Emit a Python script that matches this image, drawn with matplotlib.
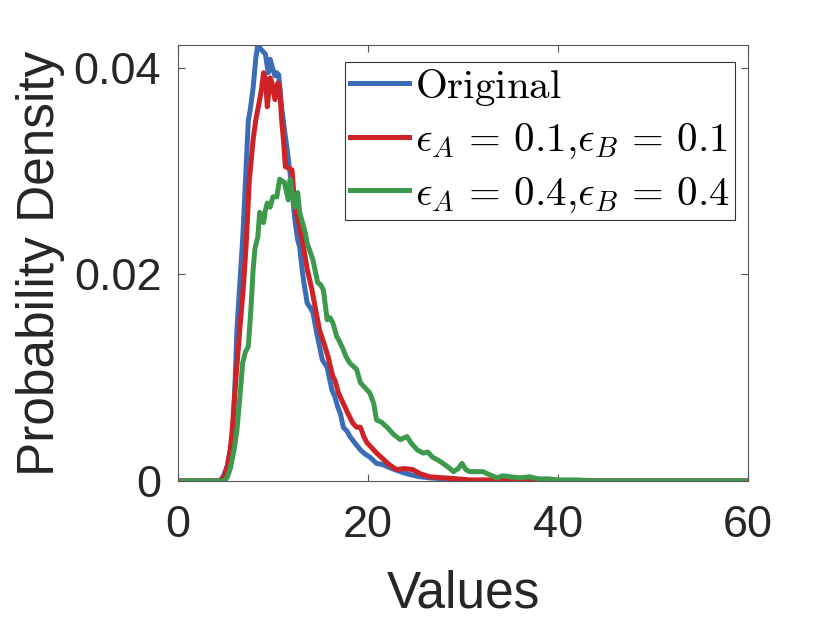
import matplotlib
matplotlib.use("Agg")
import matplotlib.pyplot as plt

plt.rcParams['font.family'] = ['Liberation Sans', 'DejaVu Sans']
plt.rcParams['mathtext.fontset'] = 'cm'

# ---- data ----
orig_x = [0, 4.4, 4.8, 5.2, 5.5, 5.8, 6.0, 6.2, 6.5, 6.8, 7.1, 7.4, 7.6, 7.9, 8.2, 8.4, 8.7, 9.0,
          9.2, 9.5, 9.7, 10.0, 10.2, 10.4, 10.6, 10.9, 11.2, 11.5, 12.0, 12.3, 12.6, 12.8, 13.0,
          13.2, 13.6, 13.9, 14.2, 14.6, 15.2, 15.7, 16.2, 16.5, 16.8, 17.1, 17.4, 17.8, 18.1,
          18.6, 19.2, 19.7, 20.2, 20.9, 21.5, 22.0, 22.8, 23.7, 24.5, 25.5, 26.5, 28.0, 29.0,
          31.0, 33.0, 60.0]
orig_y = [0, 0, 0.0005, 0.0015, 0.003, 0.0049, 0.0095, 0.0146, 0.019, 0.0233, 0.029, 0.0349,
          0.0359, 0.038, 0.041, 0.0422, 0.0418, 0.0415, 0.0413, 0.0395, 0.0408, 0.0398, 0.0392,
          0.0395, 0.0393, 0.0362, 0.034, 0.032, 0.0282, 0.0253, 0.0233, 0.0227, 0.021, 0.0195,
          0.0172, 0.0168, 0.0163, 0.0143, 0.0117, 0.011, 0.0088, 0.0082, 0.0072, 0.0065, 0.0052,
          0.0048, 0.0043, 0.0037, 0.003, 0.0026, 0.0023, 0.0017, 0.0016, 0.0014, 0.0011, 0.0008,
          0.0006, 0.0004, 0.0003, 0.0002, 0.0001, 0.00005, 0, 0]

e01_x = [0, 4.5, 4.9, 5.2, 5.5, 5.7, 6.1, 6.5, 6.9, 7.2, 7.5, 7.9, 8.2, 8.6, 8.8, 9.0, 9.2, 9.4,
         9.7, 9.9, 10.2, 10.5, 10.7, 10.9, 11.1, 11.3, 11.6, 12.0, 12.3, 12.8, 13.2, 13.6, 14.1,
         14.5, 14.9, 15.3, 15.8, 16.3, 16.5, 16.9, 17.4, 17.9, 18.4, 18.8, 19.2, 19.6, 19.9,
         20.4, 20.9, 21.5, 22.2, 23.0, 23.8, 24.7, 25.5, 26.5, 28.0, 29.5, 30.7, 33.0, 35.0, 60.0]
e01_y = [0, 0, 0.0005, 0.0015, 0.003, 0.0049, 0.01, 0.0146, 0.019, 0.0233, 0.029, 0.033, 0.035,
         0.0369, 0.038, 0.0395, 0.039, 0.0362, 0.039, 0.0385, 0.0369, 0.0385, 0.038, 0.035,
         0.033, 0.0304, 0.0303, 0.0301, 0.0265, 0.0246, 0.0227, 0.0205, 0.0185, 0.0165, 0.0146,
         0.0135, 0.012, 0.0101, 0.0098, 0.0085, 0.0075, 0.0065, 0.0056, 0.0052, 0.0052, 0.0042,
         0.0037, 0.0032, 0.0027, 0.0022, 0.0016, 0.0011, 0.0012, 0.0011, 0.0007, 0.0004, 0.0003,
         0.0002, 0.0001, 0.0001, 0, 0]

e04_x = [0, 4.9, 5.2, 5.5, 5.9, 6.2, 6.5, 6.8, 7.1, 7.4, 7.7, 7.9, 8.1, 8.4, 8.6, 9.0, 9.2, 9.4,
         9.7, 10.0, 10.4, 10.7, 11.0, 11.2, 11.6, 11.8, 12.1, 12.3, 12.6, 12.8, 13.1, 13.4, 13.6,
         14.2, 14.7, 15.0, 15.3, 15.7, 16.0, 16.3, 16.7, 17.0, 17.4, 17.7, 18.1, 18.8, 19.2,
         19.7, 20.2, 20.6, 20.9, 21.4, 22.0, 22.7, 23.4, 24.1, 24.6, 25.2, 25.8, 26.3, 26.8,
         27.4, 27.9, 28.5, 29.0, 29.5, 29.9, 30.3, 30.7, 31.5, 32.1, 32.8, 33.6, 34.2, 35.0,
         36.0, 37.0, 38.0, 39.0, 40.0, 42.0, 44.0, 60.0]
e04_y = [0, 0, 0.0004, 0.0012, 0.003, 0.0049, 0.008, 0.0114, 0.0125, 0.013, 0.017, 0.0204,
         0.0225, 0.0236, 0.026, 0.025, 0.0262, 0.0269, 0.0265, 0.0275, 0.0275, 0.0292, 0.029,
         0.0289, 0.0272, 0.0292, 0.0275, 0.0265, 0.0279, 0.026, 0.025, 0.024, 0.023, 0.0214,
         0.0192, 0.019, 0.0185, 0.0156, 0.0158, 0.0153, 0.014, 0.0135, 0.0127, 0.012, 0.0114,
         0.0108, 0.0095, 0.009, 0.0085, 0.0075, 0.0059, 0.0057, 0.0052, 0.0045, 0.004, 0.0043,
         0.0036, 0.003, 0.0027, 0.0028, 0.0023, 0.002, 0.0017, 0.0013, 0.0009, 0.0012, 0.0017,
         0.0011, 0.0009, 0.0009, 0.0009, 0.0006, 0.0003, 0.0005, 0.0004, 0.0003, 0.0004, 0.0002,
         0.0002, 0.0001, 0.0001, 0, 0]

labels = [r'$\mathrm{Original}$',
          r'$\epsilon_A\,=\,0.1{,}\epsilon_B\,=\,0.1$',
          r'$\epsilon_A\,=\,0.4{,}\epsilon_B\,=\,0.4$']
colors = ['#3B6DB6', '#CF2227', '#3D9A4C']
xticks = [0, 20, 40, 60]
yticks = [0, 0.02, 0.04]
ytick_labels = ['0', '0.02', '0.04']

fig = plt.figure(figsize=(8.3, 6.23), dpi=100)
ax = fig.add_axes([0.2145, 0.228, 0.6866, 0.700])

for xs, ys, c, lab in zip([orig_x, e01_x, e04_x], [orig_y, e01_y, e04_y], colors, labels):
    ax.plot(xs, ys, color=c, lw=3.6, label=lab, solid_joinstyle='round')

ax.set_xlim(0, 60)
ax.set_ylim(0, 0.0422)
ax.set_xticks(xticks)
ax.set_yticks(yticks)
ax.set_yticklabels(ytick_labels)
txtc = '#262626'
ax.tick_params(direction='in', top=True, right=True, length=5, width=0.8,
               labelsize=32.5, colors='#555555', labelcolor=txtc)
ax.tick_params(axis='x', pad=17)
ax.tick_params(axis='y', pad=12)
for s in ax.spines.values():
    s.set_color('#555555')
    s.set_linewidth(0.8)
ax.set_xlabel('Values', fontsize=37, color=txtc, labelpad=17)
ax.set_ylabel('Probability Density', fontsize=37, color=txtc, labelpad=6)

leg = ax.legend(loc='upper right', bbox_to_anchor=(0.977, 0.961), borderaxespad=0,
                fontsize=29.5, handlelength=1.45, handletextpad=0.15, labelspacing=0.33,
                borderpad=0.12, fancybox=False, framealpha=1, edgecolor='#333333')
leg.get_frame().set_linewidth(0.8)

fig.savefig('out.png', dpi=100)
